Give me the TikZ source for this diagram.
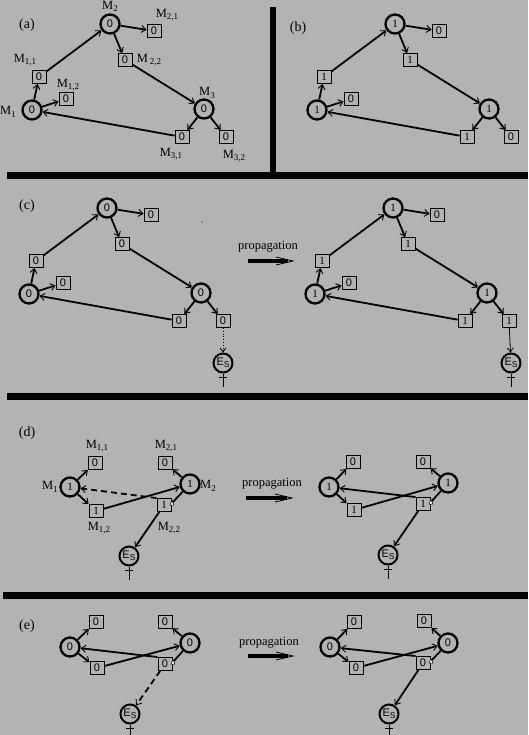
\documentclass[tikz,border=0pt]{standalone}
\usepackage{fontspec}
\setmainfont{Liberation Serif}
\newfontfamily\sansf{Liberation Sans}
\usetikzlibrary{arrows.meta,calc}
\definecolor{bg}{RGB}{179,179,179}
\newcommand\Msub[1]{M\raisebox{-0.45ex}{\fontsize{9}{9}\selectfont #1}}
\newcommand\Zd{{\sansf 0}}
\newcommand\Esl{{\sansf E\raisebox{-0.4ex}{\fontsize{8.5}{8.5}\selectfont S}}}
\tikzset{
  st/.style={circle, draw, line width=2.3pt, minimum size=19pt, inner sep=0pt, font=\fontsize{11}{11}\selectfont},
  bx/.style={rectangle, draw, line width=0.9pt, minimum width=14pt, minimum height=13pt, inner sep=0pt, font=\fontsize{11}{11}\selectfont},
  es/.style={circle, draw, line width=2pt, minimum size=19pt, inner sep=0pt, font=\fontsize{11}{11}\selectfont},
  cn/.style={line width=1.8pt, -{Straight Barb[length=4.5pt,width=7pt,line width=0.9pt]}},
  thinarr/.style={line width=0.8pt, -{Straight Barb[length=4pt,width=6pt,line width=0.8pt]}},
  plainln/.style={line width=1.8pt},
  lb/.style={font=\fontsize{12.5}{13}\selectfont, inner sep=0pt},
  pl/.style={font=\fontsize{14}{14}\selectfont, inner sep=0pt},
  prop/.style={font=\fontsize{12.5}{13}\selectfont, inner sep=0pt},
  tri/.style={fill=white, draw=black, line width=0.5pt},
  foot/.style={line width=1pt},
}
\newcommand\bigG[8]{%
  \node[st] (#1m1) at (32,110) {#2};
  \node[bx] (#1m11) at (39,77) {#3};
  \node[bx] (#1m12) at (66,99) {\Zd};
  \node[st] (#1m2) at (110,24) {#4};
  \node[bx] (#1m21) at (154,31) {\Zd};
  \node[bx] (#1m22) at (125,60) {#5};
  \node[st] (#1m3) at (204,109) {#6};
  \node[bx] (#1m31) at (182,137) {#7};
  \node[bx] (#1m32) at (226,137) {#8};
  \draw[cn] (#1m1) -- (#1m11);
  \draw[cn] (#1m1) -- (#1m12);
  \draw[cn] (#1m11) -- (#1m2);
  \draw[cn] (#1m2) -- (#1m21);
  \draw[cn] (#1m2) -- (#1m22);
  \draw[cn] (#1m22) -- (#1m3);
  \draw[cn] (#1m3) -- (#1m31);
  \draw[cn] (#1m3) -- (#1m32);
  \draw[cn] (#1m31) -- (#1m1);
}
\newcommand\esfoot[1]{%
  \draw[foot] (#1.south) -- ++(0,13);
  \draw[foot] ($(#1.south)+(-4,4)$) -- ++(8,0);
}
\newcommand\triat[1]{%
  \draw[tri] ($(#1)+(-2,2)$) -- ($(#1)+(2,2)$) -- ($(#1)+(0,-2.5)$) -- cycle;
}
\newcommand\proparrow[3]{% name, start, end
  \coordinate (#1s) at #2;
  \coordinate (#1e) at #3;
  \draw[line width=4pt] (#1s) -- ($(#1e)+(-5,0)$);
  \draw[line width=0.8pt] ($(#1e)+(-17,-4)$) -- (#1e) -- ($(#1e)+(-17,4)$);
}
\begin{document}
\begin{tikzpicture}[x=1pt,y=-1pt]
\fill[bg] (0,0) rectangle (528,735);
\useasboundingbox (0,0) rectangle (528,735);
% separator bars
\fill (270,7) rectangle (276,179);
\fill (7,172) rectangle (528,179);
\fill (7,393) rectangle (528,400);
\fill (3,592) rectangle (528,599);

% ---------- (a)
\node[pl] (la) at (27,25) {(a)};
\bigG{a}{\Zd}{\Zd}{\Zd}{\Zd}{\Zd}{\Zd}{\Zd}
\node[lb] (lam1) at (8,112) {\Msub{1}};
\node[lb] (lam11) at (25,60) {\Msub{1,1}};
\node[lb] (lam12) at (68,85) {\Msub{1,2}};
\node[lb] (lam2) at (110,6.5) {\Msub{2}};
\node[lb] (lam21) at (167,15) {\Msub{2,1}};
\node[lb] (lam22) at (149,60) {M\,\raisebox{-0.45ex}{\fontsize{9}{9}\selectfont 2,2}};
\node[lb] (lam3) at (207,93) {\Msub{3}};
\node[lb] (lam31) at (171,154) {\Msub{3,1}};
\node[lb] (lam32) at (234,156) {\Msub{3,2}};

% ---------- (b)
\node[pl] (lb) at (298,28) {(b)};
\begin{scope}[shift={(285,0)}]
\bigG{b}{1}{1}{1}{1}{1}{1}{\Zd}
\end{scope}

% ---------- (c)
\node[pl] (lc) at (27,206) {(c)};
\begin{scope}[shift={(-3,184)}]
\bigG{cL}{\Zd}{\Zd}{\Zd}{\Zd}{\Zd}{\Zd}{\Zd}
\end{scope}
\node[es] (cLes) at (223,363) {\Esl};
\draw[thinarr, dotted] (cLm32) -- (cLes);
\esfoot{cLes}
\fill (202,222) circle (0.7);
\node[prop] (pc) at (268,247) {propagation};
\proparrow{pac}{(248,261)}{(293,261)}
\begin{scope}[shift={(283,184)}]
\bigG{cR}{1}{1}{1}{1}{1}{1}{1}
\end{scope}
\node[es] (cRes) at (511,363) {\Esl};
\draw[thinarr] (cRm32) -- (cRes);
\esfoot{cRes}

% ---------- (d) left
\node[pl] (ld) at (27,433) {(d)};
\node[st] (d1) at (70,487) {1};
\node[bx] (d11) at (95,463) {\Zd};
\node[bx] (d12) at (96,511) {1};
\node[st] (d2) at (190,484) {1};
\node[bx] (d21) at (165,463) {\Zd};
\node[bx] (d22) at (164,505) {1};
\node[es] (des) at (129,556) {\Esl};
\coordinate (d22t) at ($(d22.north east)+(0.5,5)$);
\draw[cn] (d1) -- (d11);
\draw[cn] (d1) -- (d12);
\draw[cn] (d12) -- (d2);
\draw[cn] (d2) -- (d21);
\draw[plainln] (d2) -- (d22t);
\triat{d22t}
\draw[cn, dashed, dash pattern=on 6pt off 4pt] (d22.north west) -- (d1);
\draw[cn] (d22) -- (des);
\esfoot{des}
\node[lb] (ldm1) at (50,487) {\Msub{1}};
\node[lb] (ldm11) at (97,446) {\Msub{1,1}};
\node[lb] (ldm12) at (99,528) {\Msub{1,2}};
\node[lb] (ldm2) at (208,486) {\Msub{2}};
\node[lb] (ldm21) at (166,446) {\Msub{2,1}};
\node[lb] (ldm22) at (169,528) {\Msub{2,2}};
\node[prop] (pd) at (272,484) {propagation};
\proparrow{pad}{(246,498)}{(292,498)}

% ---------- (d) right
\node[st] (r1) at (329,487) {1};
\node[bx] (r11) at (353,462) {\Zd};
\node[bx] (r12) at (354,510) {1};
\node[st] (r2) at (448,483) {1};
\node[bx] (r21) at (423,462) {\Zd};
\node[bx] (r22) at (423,504) {1};
\node[es] (res) at (388,555) {\Esl};
\coordinate (r22t) at ($(r22.north east)+(0.5,5)$);
\draw[cn] (r1) -- (r11);
\draw[cn] (r1) -- (r12);
\draw[cn] (r12) -- (r2);
\draw[cn] (r2) -- (r21);
\draw[plainln] (r2) -- (r22t);
\triat{r22t}
\draw[cn] (r22.north west) -- (r1);
\draw[cn] (r22) -- (res);
\esfoot{res}

% ---------- (e) left
\node[pl] (le) at (27,626) {(e)};
\node[st] (e1) at (70,647) {\Zd};
\node[bx] (e11) at (96,622) {\Zd};
\node[bx] (e12) at (97,668) {\Zd};
\node[st] (e2) at (190,643) {\Zd};
\node[bx] (e21) at (165,622) {\Zd};
\node[bx] (e22) at (165,664) {\Zd};
\node[es] (ees) at (130,714) {\Esl};
\coordinate (e22t) at ($(e22.north east)+(0.5,5)$);
\draw[cn] (e1) -- (e11);
\draw[cn] (e1) -- (e12);
\draw[cn] (e12) -- (e2);
\draw[cn] (e2) -- (e21);
\draw[plainln] (e2) -- (e22t);
\triat{e22t}
\draw[cn] (e22.north west) -- (e1);
\draw[cn, dashed, dash pattern=on 6pt off 4pt] (e22) -- (ees);
\esfoot{ees}
\node[prop] (pe) at (269,643) {propagation};
\proparrow{pae}{(248,656)}{(293,656)}

% ---------- (e) right
\node[st] (s1) at (330,647) {\Zd};
\node[bx] (s11) at (354,622) {\Zd};
\node[bx] (s12) at (356,668) {\Zd};
\node[st] (s2) at (448,643) {\Zd};
\node[bx] (s21) at (424,621) {\Zd};
\node[bx] (s22) at (423,663) {\Zd};
\node[es] (ses) at (389,714) {\Esl};
\coordinate (s22t) at ($(s22.north east)+(0.5,5)$);
\draw[cn] (s1) -- (s11);
\draw[cn] (s1) -- (s12);
\draw[cn] (s12) -- (s2);
\draw[cn] (s2) -- (s21);
\draw[plainln] (s2) -- (s22t);
\triat{s22t}
\draw[cn] (s22.north west) -- (s1);
\draw[cn] (s22) -- (ses);
\esfoot{ses}
\end{tikzpicture}
\end{document}
